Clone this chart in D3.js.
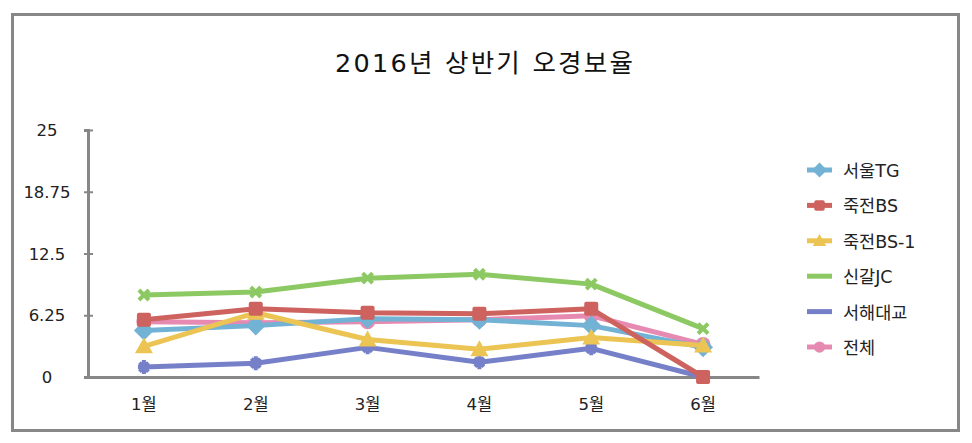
<!DOCTYPE html>
<html><head><meta charset="utf-8">
<script src="https://cdn.jsdelivr.net/npm/d3@7"></script>
<style>body{margin:0;background:#fff}svg{display:block}</style>
</head><body>
<script>
const months = ["1월","2월","3월","4월","5월","6월"];
const yTicks = [0, 6.25, 12.5, 18.75, 25];
const seriesNames = ["서울TG","죽전BS","죽전BS-1","신갈JC","서해대교","전체"];
const seoulTG  = [4.7, 5.2, 5.9, 5.8, 5.2, 3.0];
const jukjeonBS = [5.8, 6.9, 6.5, 6.4, 6.9, 0];
const jukjeonBS1 = [3.1, 6.5, 3.8, 2.8, 4.0, 3.2];
const singalJC = [8.3, 8.6, 10.0, 10.4, 9.4, 4.9];
const seohae = [1.0, 1.4, 3.0, 1.5, 2.9, 0];
const total = [5.6, 5.5, 5.6, 5.8, 6.2, 3.3];
const colors = ["#72b2d4","#cd625f","#ecc453","#8dc963","#7680c9","#e78ab2"];
const shapes = ["diamond","square","triangle","x","star","circle"];

const W = 972, H = 443;
const svg = d3.select("body").append("svg").attr("width", W).attr("height", H);
const font = "'DejaVu Sans','Noto Sans CJK KR',sans-serif";

svg.append("rect").attr("x",12.5).attr("y",14.5).attr("width",946).attr("height",416)
  .attr("fill","none").attr("stroke","#878787").attr("stroke-width",3);

svg.append("text").attr("x",335).attr("y",72)
  .attr("font-family",font).attr("font-size",25.5).attr("fill","#111")
  .attr("textLength",298).attr("lengthAdjust","spacing").text("2016년 상반기 오경보율");

const x = d3.scaleBand().domain(months).range([88, 759]);
const y = d3.scaleLinear().domain([0,25]).range([377,130]);

// y axis
const yAxis = svg.append("g").attr("transform","translate(88,0)")
  .call(d3.axisLeft(y).tickValues(yTicks).tickSize(4).tickFormat(""));
yAxis.selectAll(".domain").attr("stroke","#878787").attr("stroke-width",3);
yAxis.selectAll(".tick line").attr("stroke","#878787").attr("stroke-width",2).attr("x1",-4).attr("x2",5);
svg.append("g").selectAll("text").data(yTicks).join("text")
  .attr("x",47).attr("y",d=>y(d)+6).attr("text-anchor","middle")
  .attr("font-family",font).attr("font-size",16.5).attr("fill","#222")
  .text(d=>d);

// x axis
const xAxis = svg.append("g").attr("transform","translate(0,377)")
  .call(d3.axisBottom(x).tickSize(0).tickSizeOuter(0).tickFormat(""));
xAxis.selectAll(".domain").attr("stroke","#878787").attr("stroke-width",3);
svg.append("g").selectAll("text").data(months).join("text")
  .attr("x",d=>x(d)+x.bandwidth()/2).attr("y",410).attr("text-anchor","middle")
  .attr("font-family",font).attr("font-size",16.5).attr("fill","#222").text(d=>d);

const allSeries = [seoulTG, jukjeonBS, jukjeonBS1, singalJC, seohae, total];
const drawOrder = [5,0,4,3,2,1];

function marker(g, shape, cx, cy, color, s) {
  s = s || 1;
  if (shape==="diamond") g.append("path").attr("d",`M${cx},${cy-10*s}L${cx+10*s},${cy}L${cx},${cy+10*s}L${cx-10*s},${cy}Z`).attr("fill",color);
  else if (shape==="square") g.append("rect").attr("x",cx-7*s).attr("y",cy-7*s).attr("width",14*s).attr("height",14*s).attr("rx",2).attr("fill",color);
  else if (shape==="triangle") g.append("path").attr("d",`M${cx},${cy-9*s}L${cx+9*s},${cy+7*s}L${cx-9*s},${cy+7*s}Z`).attr("fill",color);
  else if (shape==="circle") g.append("circle").attr("cx",cx).attr("cy",cy).attr("r",7.5*s).attr("fill",color);
  else if (shape==="x") g.append("path").attr("d",`M${cx-5},${cy-5}L${cx+5},${cy+5}M${cx+5},${cy-5}L${cx-5},${cy+5}`).attr("stroke",color).attr("stroke-width",4);
  else if (shape==="star") {
    g.append("path").attr("d",`M${cx-6},${cy}L${cx+6},${cy}M${cx},${cy-7}L${cx},${cy+7}M${cx-4.5},${cy-4.5}L${cx+4.5},${cy+4.5}M${cx+4.5},${cy-4.5}L${cx-4.5},${cy+4.5}`).attr("stroke",color).attr("stroke-width",4);
  }
}

const line = d3.line().x((d,i)=>x(months[i])+x.bandwidth()/2).y(d=>y(d));
drawOrder.forEach(k=>{
  const g = svg.append("g");
  g.append("path").datum(allSeries[k]).attr("d",line).attr("fill","none")
    .attr("stroke",colors[k]).attr("stroke-width",5).attr("stroke-linejoin","round");
  allSeries[k].forEach((v,i)=>marker(g, shapes[k], x(months[i])+x.bandwidth()/2, y(v), colors[k]));
});

// legend
const lg = svg.append("g");
seriesNames.forEach((n,i)=>{
  const cy = 170 + i*35.4;
  lg.append("line").attr("x1",807).attr("x2",832).attr("y1",cy).attr("y2",cy)
    .attr("stroke",colors[i]).attr("stroke-width",5);
  if (["diamond","square","triangle","circle"].includes(shapes[i])) marker(lg, shapes[i], 819.5, cy, colors[i], 0.75);
  lg.append("text").attr("x",843).attr("y",cy+7).attr("font-family",font).attr("font-size",17.5)
    .attr("fill","#222").text(n);
});
</script>
</body></html>
